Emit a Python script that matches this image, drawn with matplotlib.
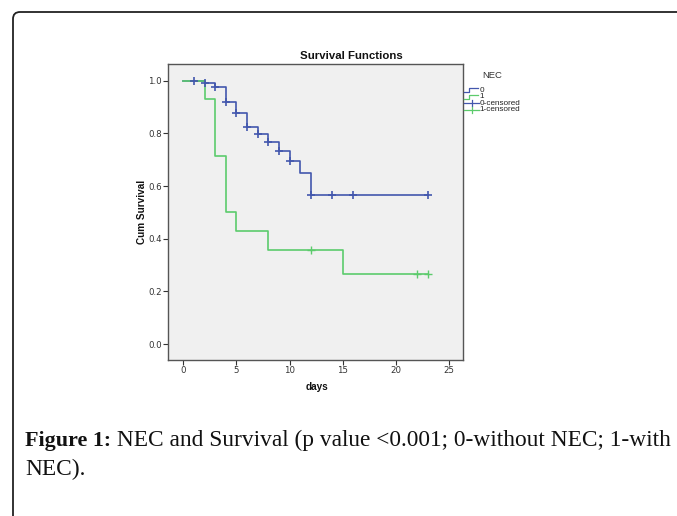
import matplotlib
matplotlib.use("Agg")
import matplotlib.pyplot as plt
from matplotlib.patches import FancyBboxPatch
from matplotlib.lines import Line2D

# ---- data ----
g0_times = [0, 2, 3, 4, 5, 6, 7, 8, 9, 10, 11, 12, 23]
g0_surv = [1.0, 0.990, 0.975, 0.919, 0.877, 0.824, 0.798, 0.767, 0.732, 0.694, 0.651, 0.565, 0.565]
g0_cens_t = [1, 2, 3, 4, 5, 6, 7, 8, 9, 10, 12, 14, 16, 23]
g0_cens_s = [1.0, 0.990, 0.975, 0.919, 0.877, 0.824, 0.798, 0.767, 0.732, 0.694, 0.565, 0.565, 0.565, 0.565]

g1_times = [0, 2, 3, 4, 5, 8, 15, 23]
g1_surv = [1.0, 0.929, 0.714, 0.500, 0.429, 0.357, 0.268, 0.268]
g1_cens_t = [12, 22, 23]
g1_cens_s = [0.357, 0.268, 0.268]

xticks = [0, 5, 10, 15, 20, 25]
yticks = [0.0, 0.2, 0.4, 0.6, 0.8, 1.0]
legend_labels = ["0", "1", "0-censored", "1-censored"]

BLUE = "#4357ad"
GREEN = "#5ccb6c"

W, H = 677, 516
fig = plt.figure(figsize=(W / 100, H / 100), dpi=100)
fig.patch.set_facecolor("white")

# outer rounded frame
frame = FancyBboxPatch((13, -40), 720, H - 12 + 40,
                       boxstyle="round,pad=0,rounding_size=7",
                       transform=None, fill=False, edgecolor="#222222", linewidth=1.3)
fig.patches.append(frame)

ax = fig.add_axes([168 / W, 1 - 360 / H, (463 - 168) / W, (360 - 64) / H])
ax.set_facecolor("#f0f0f0")

ax.step(g0_times, g0_surv, where="post", color=BLUE, lw=1.2)
ax.step(g1_times, g1_surv, where="post", color=GREEN, lw=1.2)
ax.plot(g0_cens_t, g0_cens_s, ls="none", marker="+", ms=6, mew=1.2, color=BLUE)
ax.plot(g1_cens_t, g1_cens_s, ls="none", marker="+", ms=6, mew=1.0, color=GREEN)

ax.set_xlim(-1.44, 26.3)
ax.set_ylim(-0.06, 1.063)
ax.set_xticks(xticks)
ax.set_yticks(yticks)
ax.set_xticklabels([str(v) for v in xticks])
ax.set_yticklabels([f"{v:.1f}" for v in yticks])
ax.tick_params(axis="both", direction="out", length=3.5, width=0.8, color="#333333",
               labelsize=6.2, labelcolor="#333333", pad=1)
for s in ax.spines.values():
    s.set_color("#555555")
    s.set_linewidth(1.0)

fig.text(351 / W, 1 - 56 / H, "Survival Functions", ha="center", va="center",
         fontsize=8.2, fontweight="bold", family="Liberation Sans", color="#111111")
fig.text(316.5 / W, 1 - 387 / H, "days", ha="center", va="center",
         fontsize=7.2, fontweight="bold", family="Liberation Sans", color="#111111")
fig.text(142 / W, 1 - 212 / H, "Cum Survival", ha="center", va="center", rotation=90,
         fontsize=7.2, fontweight="bold", family="Liberation Sans", color="#111111")

# legend (manual, outside axes)
fig.text(492 / W, 1 - 75 / H, "NEC", ha="center", va="center", fontsize=6.8,
         family="Liberation Sans", color="#333333")
rows = [90, 96.7, 103.3, 110]
cols = [BLUE, GREEN, BLUE, GREEN]
for i, (lab, y, c) in enumerate(zip(legend_labels, rows, cols)):
    yf = 1 - y / H
    if i < 2:
        xs = [464, 469, 469, 478]
        ys = [y + 1.8, y + 1.8, y - 1.8, y - 1.8]
        fig.lines.append(Line2D([v / W for v in xs], [1 - v / H for v in ys],
                                transform=fig.transFigure, color=c, lw=0.9))
    else:
        fig.lines.append(Line2D([464 / W, 479 / W], [yf, yf],
                                transform=fig.transFigure, color=c, lw=0.9))
        fig.lines.append(Line2D([471.5 / W, 471.5 / W], [1 - (y - 3) / H, 1 - (y + 3) / H],
                                transform=fig.transFigure, color=c, lw=0.9))
    fig.text(479.5 / W, yf, lab, ha="left", va="center", fontsize=5.9,
             family="Liberation Sans", color="#222222")

# caption
t1 = fig.text(25 / W, 1 - 441 / H, "Figure 1:", ha="left", va="center",
              fontsize=15.8, fontweight="bold", family="Liberation Serif", color="#111111")
plt.annotate(" NEC and Survival (p value <0.001; 0-without NEC; 1-with",
             xy=(1, 0), xycoords=t1, va="bottom", ha="left",
             fontsize=16.8, family="Liberation Serif", color="#111111",
             annotation_clip=False)
fig.text(25 / W, 1 - 469 / H, "NEC).", ha="left", va="center",
         fontsize=16.8, family="Liberation Serif", color="#111111")

fig.savefig("out.png", dpi=100)
